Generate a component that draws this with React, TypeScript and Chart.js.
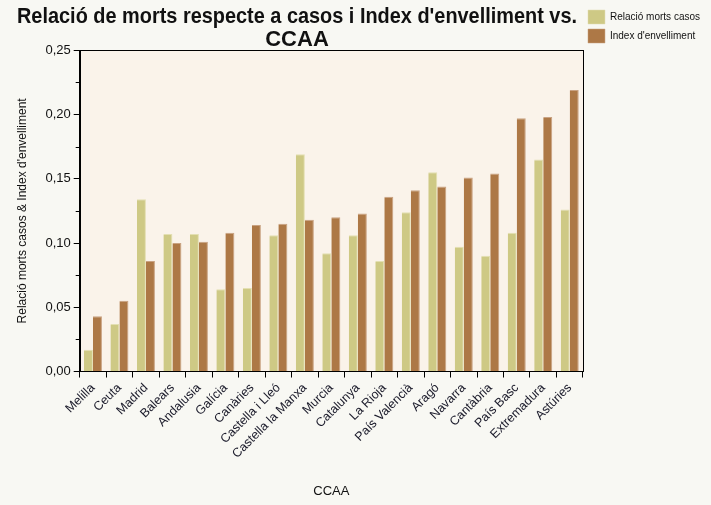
import React, { useEffect, useRef } from "react";
import { Chart, registerables } from "chart.js";

Chart.register(...registerables);

const categories = [
  "Melilla", "Ceuta", "Madrid", "Balears", "Andalusia", "Galícia", "Canàries",
  "Castella i Lleó", "Castella la Manxa", "Murcia", "Catalunya", "La Rioja",
  "País Valencià", "Aragó", "Navarra", "Cantàbria", "País Basc", "Extremadura", "Astúries",
];

const relacioMortsCasos = [
  0.017, 0.037, 0.134, 0.107, 0.107, 0.064, 0.065, 0.106, 0.169, 0.092,
  0.106, 0.086, 0.124, 0.155, 0.097, 0.090, 0.108, 0.165, 0.126,
];

const indexEnvelliment = [
  0.043, 0.055, 0.086, 0.100, 0.101, 0.108, 0.114, 0.115, 0.118, 0.120,
  0.123, 0.136, 0.141, 0.144, 0.151, 0.154, 0.197, 0.198, 0.219,
];

const seriesNames = ["Relació morts casos", "Index d'envelliment"];
const titleLines = ["Relació de morts respecte a casos i Index d'envelliment vs.", "CCAA"];
const yAxisTitle = "Relació morts casos & Index d'envelliment";
const xAxisTitle = "CCAA";

const PAGE_BG = "#f8f8f3";
const PLOT_BG = "#faf3ea";
const GREEN = "#cec985";
const BROWN = "#ad7846";
const FONT = "'Liberation Sans', Arial, Helvetica, sans-serif";

const decor = {
  id: "decor",
  afterLayout(chart: any) {
    // centre the title over the area left of the legend
    const t = chart.titleBlock;
    if (t) {
      t.left = 17;
      t.right = 577;
    }
  },
  beforeDraw(chart: any) {
    const { ctx, chartArea: a } = chart;
    ctx.save();
    ctx.fillStyle = PAGE_BG;
    ctx.fillRect(0, 0, chart.width, chart.height);
    ctx.fillStyle = PLOT_BG;
    ctx.fillRect(a.left, a.top, a.right - a.left, a.bottom - a.top);
    ctx.restore();
  },
  afterDraw(chart: any) {
    const { ctx, chartArea: a } = chart;
    const y = chart.scales.y;
    ctx.save();
    ctx.strokeStyle = "#000";
    ctx.lineWidth = 1;
    ctx.strokeRect(Math.round(a.left) + 0.5, Math.round(a.top) + 0.5, Math.round(a.right - a.left), Math.round(a.bottom - a.top));
    ctx.beginPath();
    for (let v = 0.025; v < y.max; v += 0.05) {
      const p = Math.round(y.getPixelForValue(v)) + 0.5;
      ctx.moveTo(a.left - 4, p);
      ctx.lineTo(a.left, p);
    }
    ctx.stroke();
    ctx.restore();
  },
};

export default function App() {
  const ref = useRef<HTMLCanvasElement>(null);
  useEffect(() => {
    document.body.style.margin = "0";
    document.body.style.background = PAGE_BG;
    const chart = new Chart(ref.current!, {
      type: "bar",
      data: {
        labels: categories,
        datasets: [
          {
            label: seriesNames[0],
            data: relacioMortsCasos,
            backgroundColor: GREEN,
            borderColor: "#e3dfb2",
            borderWidth: { top: 1, right: 1, left: 0, bottom: 0 },
          },
          {
            label: seriesNames[1],
            data: indexEnvelliment,
            backgroundColor: BROWN,
            borderColor: "#c9a282",
            borderWidth: { top: 1, right: 1, left: 0, bottom: 0 },
          },
        ],
      },
      options: {
        responsive: false,
        animation: false,
        layout: { padding: { left: 11, right: 1, top: 5, bottom: 6 } },
        datasets: { bar: { categoryPercentage: 0.68, barPercentage: 1.0 } },
        plugins: {
          title: {
            display: true,
            text: titleLines,
            fullSize: false,
            color: "#111",
            font: { family: FONT, size: 22, weight: "bold", lineHeight: 1.05 },
            padding: { top: 0, bottom: -1 },
          },
          legend: {
            position: "right",
            align: "start",
            labels: {
              color: "#111",
              font: { family: FONT, size: 10 },
              boxWidth: 17,
              boxHeight: 14,
              padding: 5,
            },
          },
          tooltip: { enabled: false },
        },
        scales: {
          x: {
            grid: { drawOnChartArea: false, color: "#000", tickLength: 6 },
            border: { color: "#000" },
            ticks: {
              color: "#1a1a2a",
              font: { family: FONT, size: 12.5 },
              maxRotation: 45,
              minRotation: 45,
              padding: 3,
            },
            title: {
              display: true,
              text: xAxisTitle,
              color: "#111",
              font: { family: FONT, size: 13 },
              padding: { top: 19, bottom: 0 },
            },
          },
          y: {
            min: 0,
            max: 0.25,
            grid: { drawOnChartArea: false, color: "#000", tickLength: 6 },
            border: { color: "#000" },
            ticks: {
              stepSize: 0.05,
              color: "#111",
              font: { family: FONT, size: 13 },
              padding: 3,
              callback: (v: any) => Number(v).toFixed(2).replace(".", ","),
            },
            title: {
              display: true,
              text: yAxisTitle,
              color: "#111",
              font: { family: FONT, size: 12 },
              padding: { bottom: 13 },
            },
          },
        },
      },
      plugins: [decor],
    });
    return () => chart.destroy();
  }, []);
  return (
    <div style={{ width: 711, height: 505 }}>
      <canvas ref={ref} width={711} height={505} />
    </div>
  );
}
